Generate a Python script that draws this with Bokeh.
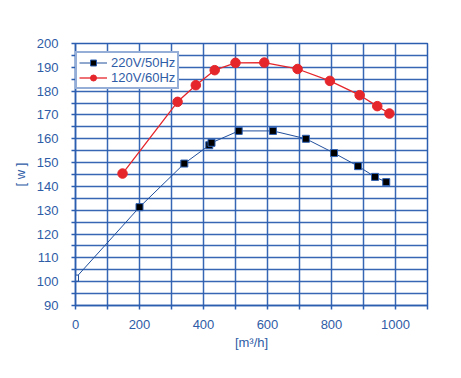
from bokeh.plotting import figure
from bokeh.models import FixedTicker, Legend, LegendItem, Range1d
from bokeh.embed import file_html
from bokeh.resources import INLINE

# data
flow_220 = [0, 200, 340, 418, 425, 510, 617, 720, 808, 883, 936, 971]
power_220 = [101.5, 131.3, 149.6, 157.3, 158.3, 163.3, 163.3, 160.0, 154.0, 148.5, 144.0, 141.8]
flow_120 = [147, 319, 376, 435, 500, 590, 694, 795, 888, 943, 981]
power_120 = [145.4, 175.5, 182.5, 188.8, 191.9, 192.0, 189.3, 184.3, 178.3, 173.7, 170.6]
x_ticks = [0, 200, 400, 600, 800, 1000]
x_minor = [100, 300, 500, 700, 900, 1100]
y_ticks = [90, 100, 110, 120, 130, 140, 150, 160, 170, 180, 190, 200]
y_minor = [95, 105, 115, 125, 135, 145, 155, 165, 175, 185, 195]

BLUE = "#2c5eb0"
TXT = "#2f5ca6"
LINE_BLUE = "#214f9c"
RED = "#e5262b"
FONT = "Liberation Sans"

p = figure(width=445, height=362, output_backend="svg", toolbar_location=None,
           x_range=Range1d(0, 1100), y_range=Range1d(90, 200),
           min_border_left=75, min_border_right=18, min_border_top=43, min_border_bottom=57)

p.background_fill_color = "white"
p.border_fill_color = "white"
p.outline_line_color = BLUE
p.outline_line_width = 1.5

for ax, maj, mn in ((p.xaxis[0], x_ticks, x_minor), (p.yaxis[0], y_ticks, y_minor)):
    ax.ticker = FixedTicker(ticks=maj, minor_ticks=mn)
    ax.axis_line_color = BLUE
    ax.axis_line_width = 1.5
    ax.major_tick_line_color = BLUE
    ax.minor_tick_line_color = BLUE
    ax.major_tick_line_width = 1.5
    ax.minor_tick_line_width = 1.5
    ax.major_tick_in = 0
    ax.minor_tick_in = 0
    ax.major_tick_out = 4
    ax.minor_tick_out = 4
    ax.major_label_text_color = TXT
    ax.major_label_text_font = FONT
    ax.major_label_text_font_size = "13px"
    ax.axis_label_text_color = TXT
    ax.axis_label_text_font = FONT
    ax.axis_label_text_font_size = "13px"
    ax.axis_label_text_font_style = "normal"

p.xaxis.major_label_standoff = 10
p.yaxis.major_label_standoff = 13
p.xaxis.axis_label = "[m³/h]"
p.xaxis.axis_label_standoff = 3
p.yaxis.axis_label = "[ w ]"
p.yaxis.axis_label_standoff = 6

for g in (p.xgrid[0], p.ygrid[0]):
    g.grid_line_color = BLUE
    g.grid_line_width = 1.5
    g.minor_grid_line_color = BLUE
    g.minor_grid_line_width = 1.5
    g.grid_line_alpha = 0.95
    g.minor_grid_line_alpha = 0.95

# 220V series
l1 = p.line(flow_220, power_220, line_color=LINE_BLUE, line_width=1)
p.scatter(flow_220[:1], power_220[:1], marker="square", size=6,
          fill_color="white", line_color=LINE_BLUE, line_width=1)
s1 = p.scatter(flow_220[1:], power_220[1:], marker="square", size=7,
               fill_color="black", line_color=BLUE, line_width=1)

# 120V series
l2 = p.line(flow_120, power_120, line_color=RED, line_width=1.3)
s2 = p.scatter(flow_120, power_120, marker="circle", size=9.5,
               fill_color=RED, line_color=RED, line_width=1)

legend = Legend(items=[LegendItem(label="220V/50Hz", renderers=[l1, s1]),
                       LegendItem(label="120V/60Hz", renderers=[l2, s2])],
                location=(0, 216))
legend.border_line_color = BLUE
legend.border_line_width = 2
legend.background_fill_color = "white"
legend.background_fill_alpha = 1
legend.label_text_color = TXT
legend.label_text_font = FONT
legend.label_text_font_size = "13px"
legend.glyph_width = 28
legend.glyph_height = 15
legend.label_height = 15
legend.label_standoff = 4
legend.spacing = 0
legend.padding = 2
legend.margin = 0
p.add_layout(legend, "center")

open("out.html", "w").write(file_html(p, INLINE))
